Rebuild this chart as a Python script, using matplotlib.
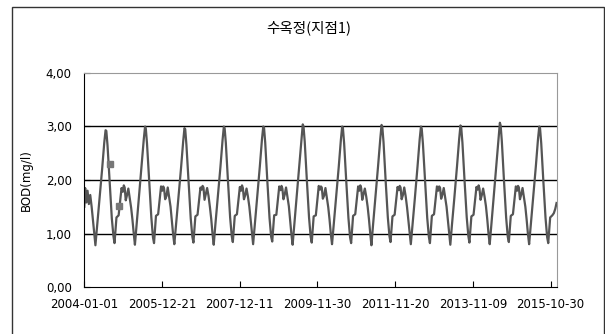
import numpy as np
import pandas as pd
import matplotlib
matplotlib.use("Agg")
import matplotlib.pyplot as plt
from matplotlib.patches import Rectangle
from matplotlib.ticker import FuncFormatter

# day-of-year positions of the readings used for every year
day_offsets = [0, 8, 18, 30, 42, 55, 68, 80, 92, 103, 118, 140, 165, 185, 197,
               204, 215, 235, 255, 270, 280, 290, 298, 318, 332, 345, 357]

bod_2004 = [1.50, 1.85, 1.58, 1.80, 1.55, 1.72, 1.50, 1.25, 0.98, 0.78, 1.12, 1.62, 2.20, 2.70, 2.93,
            2.92, 2.65, 1.95, 1.28, 0.95, 0.82, 1.08, 1.30, 1.34, 1.60, 1.85, 1.78]
bod_2005 = [1.90, 1.86, 1.62, 1.72, 1.84, 1.66, 1.48, 1.26, 1.00, 0.79, 1.15, 1.66, 2.26, 2.76, 3.00,
            2.96, 2.68, 1.98, 1.30, 0.93, 0.82, 1.12, 1.33, 1.36, 1.64, 1.88, 1.80]
bod_2006 = [1.88, 1.84, 1.64, 1.70, 1.86, 1.68, 1.50, 1.24, 0.98, 0.80, 1.14, 1.64, 2.22, 2.72, 2.97,
            2.95, 2.66, 1.96, 1.28, 0.94, 0.83, 1.10, 1.32, 1.35, 1.62, 1.86, 1.82]
bod_2007 = [1.89, 1.86, 1.63, 1.74, 1.85, 1.70, 1.49, 1.27, 0.99, 0.79, 1.16, 1.66, 2.24, 2.75, 3.00,
            2.97, 2.70, 1.98, 1.30, 0.95, 0.84, 1.11, 1.33, 1.36, 1.63, 1.87, 1.80]
bod_2008 = [1.90, 1.85, 1.64, 1.72, 1.84, 1.69, 1.50, 1.26, 1.00, 0.80, 1.15, 1.65, 2.25, 2.76, 3.00,
            2.98, 2.70, 1.97, 1.29, 0.94, 0.85, 1.12, 1.34, 1.35, 1.62, 1.88, 1.81]
bod_2009 = [1.89, 1.84, 1.64, 1.73, 1.86, 1.68, 1.51, 1.25, 0.98, 0.79, 1.16, 1.68, 2.28, 2.78, 3.04,
            3.00, 2.72, 1.99, 1.30, 0.94, 0.83, 1.10, 1.32, 1.34, 1.63, 1.89, 1.82]
bod_2010 = [1.88, 1.86, 1.65, 1.71, 1.85, 1.67, 1.49, 1.26, 0.99, 0.80, 1.15, 1.65, 2.24, 2.75, 3.00,
            2.97, 2.69, 1.97, 1.29, 0.93, 0.82, 1.11, 1.33, 1.36, 1.64, 1.88, 1.80]
bod_2011 = [1.90, 1.85, 1.63, 1.74, 1.84, 1.69, 1.50, 1.27, 1.00, 0.78, 1.16, 1.67, 2.27, 2.77, 3.03,
            2.99, 2.71, 1.98, 1.30, 0.95, 0.84, 1.12, 1.32, 1.35, 1.62, 1.87, 1.81]
bod_2012 = [1.89, 1.86, 1.64, 1.72, 1.86, 1.70, 1.49, 1.25, 0.99, 0.80, 1.14, 1.65, 2.25, 2.76, 3.00,
            2.96, 2.68, 1.97, 1.29, 0.94, 0.82, 1.10, 1.33, 1.36, 1.63, 1.88, 1.80]
bod_2013 = [1.88, 1.85, 1.65, 1.73, 1.85, 1.68, 1.50, 1.26, 1.00, 0.79, 1.16, 1.66, 2.26, 2.77, 3.02,
            2.98, 2.70, 1.98, 1.30, 0.95, 0.83, 1.11, 1.32, 1.35, 1.62, 1.87, 1.82]
bod_2014 = [1.90, 1.84, 1.63, 1.72, 1.84, 1.69, 1.51, 1.27, 0.99, 0.80, 1.17, 1.69, 2.30, 2.80, 3.07,
            3.02, 2.73, 1.99, 1.30, 0.94, 0.84, 1.12, 1.33, 1.36, 1.63, 1.88, 1.80]
bod_2015 = [1.89, 1.86, 1.64, 1.73, 1.85, 1.68, 1.50, 1.26, 0.99, 0.80, 1.15, 1.65, 2.25, 2.76, 3.00,
            2.97, 2.69, 1.97, 1.29, 0.93, 0.82, 1.10, 1.30, 1.34, 1.38, 1.46, 1.57]

years = list(range(2004, 2016))
yearly_values = [bod_2004, bod_2005, bod_2006, bod_2007, bod_2008, bod_2009,
                 bod_2010, bod_2011, bod_2012, bod_2013, bod_2014, bod_2015]

# isolated readings shown as square markers in 2004
marker_dates = ["2004-08-26", "2004-11-21"]
marker_values = [2.30, 1.51]

tick_dates = ["2004-01-01", "2005-12-21", "2007-12-11", "2009-11-30",
              "2011-11-20", "2013-11-09", "2015-10-30"]

dates = []
values = []
for yr, vals in zip(years, yearly_values):
    start = pd.Timestamp(f"{yr}-01-01")
    for d, v in zip(day_offsets, vals):
        dates.append(start + pd.Timedelta(days=d))
        values.append(v)

fig = plt.figure(figsize=(6.05, 3.34), dpi=100)
ax = fig.add_axes([84.3 / 605, 47 / 334, 473 / 605, 214 / 334])

# outer chart frame
fig.patches.append(Rectangle((12 / 605, -0.05), 591.5 / 605, 1.05 - 7 / 334,
                             transform=fig.transFigure, fill=False,
                             edgecolor="#333333", linewidth=1.0))

for y in [1, 2, 3]:
    ax.axhline(y, color="black", linewidth=1.0, zorder=1)

ax.plot(dates, values, color="#555555", linewidth=1.6, zorder=2)
ax.plot(pd.to_datetime(marker_dates), marker_values, linestyle="none", marker="s",
        markersize=4.5, color="#777777", zorder=3)

ax.set_xlim(pd.Timestamp("2004-01-01"), pd.Timestamp("2015-12-31"))
ax.set_ylim(0, 4)
ax.set_yticks([0, 1, 2, 3, 4])
ax.yaxis.set_major_formatter(FuncFormatter(lambda v, p: f"{v:.2f}".replace(".", ",")))
ax.set_xticks(pd.to_datetime(tick_dates))
ax.set_xticklabels(tick_dates)
ax.tick_params(axis="both", direction="in", length=4, labelsize=8.5, colors="black")
ax.tick_params(axis="x", pad=8)
ax.tick_params(axis="y", pad=9)

for side in ["top", "right"]:
    ax.spines[side].set_color("#999999")
for side in ["left", "bottom"]:
    ax.spines[side].set_color("black")

ax.set_ylabel("BOD(mg/l)", fontsize=8.5)
ax.yaxis.set_label_coords((32.5 - 84.3) / 473, 0.5)
fig.text(309 / 605, 1 - 27.5 / 334, "수옥정(지점1)", ha="center", va="center",
         fontsize=10.5, family=["Noto Sans CJK KR", "DejaVu Sans"])

fig.savefig("out.png", dpi=100)
